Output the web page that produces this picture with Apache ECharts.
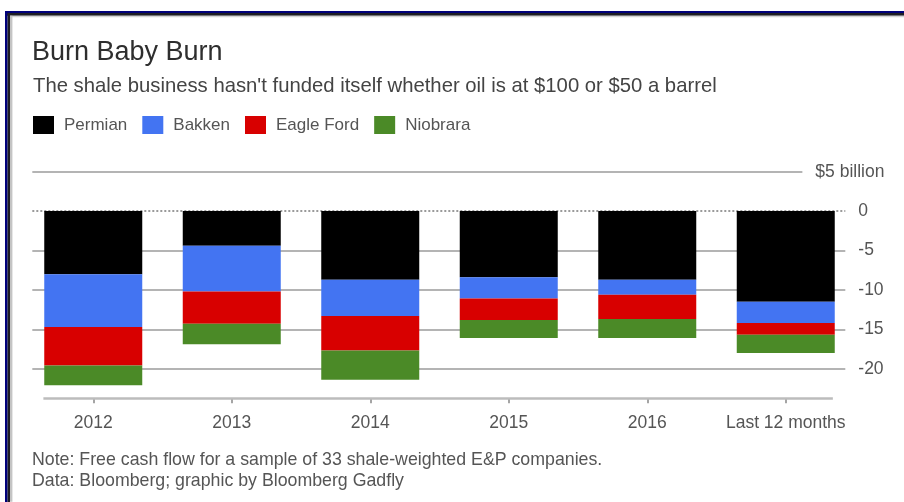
<!DOCTYPE html>
<html>
<head>
<meta charset="utf-8">
<title>Burn Baby Burn</title>
<script src="https://cdn.jsdelivr.net/npm/echarts@6/dist/echarts.min.js"></script>
<style>
  html, body { margin: 0; padding: 0; background: #ffffff; }
  #chart { width: 904px; height: 502px; }
</style>
</head>
<body>
<div id="chart"></div>
<script>
// Free cash flow by basin, $ billions
const categories = ['2012', '2013', '2014', '2015', '2016', 'Last 12 months'];
const permian   = [-8.0, -4.4, -8.7, -8.4, -8.7, -11.5];
const bakken    = [-6.7, -5.8, -4.6, -2.7, -1.9, -2.7];
const eagleFord = [-4.9, -4.1, -4.4, -2.7, -3.1, -1.5];
const niobrara  = [-2.5, -2.6, -3.7, -2.3, -2.4, -2.3];

// Value-axis reference lines and their labels
const yTickValues = [5, 0, -5, -10, -15, -20];
const yTickLabels = ['$5 billion', '0', '-5', '-10', '-15', '-20'];

const FONT = '"Liberation Sans", Arial, Helvetica, sans-serif';
const colors = { permian: '#000000', bakken: '#4374F2', eagleFord: '#D80000', niobrara: '#4B8A27' };

// Horizontal extents, in category units (category i sits at x = i)
const GRID_FROM = -0.44, GRID_TO = 5.43, TOP_LINE_TO = 5.12;
const BASE_FROM = -0.36, BASE_TO = 5.34, BASE_VALUE = -23.75;

const gridLines = yTickValues.map((v, i) => {
  const isZero = v === 0;
  const isTop = i === 0;
  return [
    { coord: [GRID_FROM, v] },
    {
      coord: [isTop ? TOP_LINE_TO : GRID_TO, v],
      lineStyle: {
        color: isZero ? '#9a9a9a' : '#b4b4b4',
        width: 2,
        type: isZero ? [2, 2] : 'solid'
      },
      label: {
        show: true,
        position: 'end',
        distance: 13,
        formatter: () => yTickLabels[i],
        color: '#555',
        fontSize: 17.5,
        fontFamily: FONT
      }
    }
  ];
});

gridLines.push([
  { coord: [BASE_FROM, BASE_VALUE] },
  { coord: [BASE_TO, BASE_VALUE], lineStyle: { color: '#bcbcbc', width: 2.5, type: 'solid' }, label: { show: false } }
]);

function barSeries(name, values, color) {
  return {
    name: name,
    type: 'bar',
    stack: 'total',
    barWidth: 98,
    xAxisIndex: 0,
    yAxisIndex: 0,
    data: values,
    itemStyle: { color: color },
    emphasis: { disabled: true },
    z: 3
  };
}

const chart = echarts.init(document.getElementById('chart'), null, { renderer: 'canvas' });

chart.setOption({
  animation: false,
  backgroundColor: '#ffffff',
  textStyle: { fontFamily: FONT },
  title: [
    {
      text: 'Burn Baby Burn',
      left: 32, top: 38, padding: 0,
      textStyle: { fontSize: 27, fontWeight: 'normal', color: '#2e2e2e', fontFamily: FONT, lineHeight: 30 }
    },
    {
      text: "The shale business hasn't funded itself whether oil is at $100 or $50 a barrel",
      left: 33, top: 75, padding: 0,
      textStyle: { fontSize: 20.3, fontWeight: 'normal', color: '#444', fontFamily: FONT, lineHeight: 22 }
    },
    {
      text: 'Note: Free cash flow for a sample of 33 shale-weighted E&P companies.',
      left: 32, top: 450, padding: 0,
      textStyle: { fontSize: 17.75, fontWeight: 'normal', color: '#555', fontFamily: FONT, lineHeight: 20 }
    },
    {
      text: 'Data: Bloomberg; graphic by Bloomberg Gadfly',
      left: 32, top: 471, padding: 0,
      textStyle: { fontSize: 17.75, fontWeight: 'normal', color: '#555', fontFamily: FONT, lineHeight: 20 }
    }
  ],
  legend: {
    left: 33, top: 116, padding: 0,
    itemWidth: 21, itemHeight: 18, itemGap: 15,
    icon: 'rect',
    selectedMode: false,
    textStyle: { fontSize: 17, color: '#555', fontFamily: FONT, padding: [0, 0, 0, 5] },
    data: ['Permian', 'Bakken', 'Eagle Ford', 'Niobrara']
  },
  grid: { left: 24, right: 49, top: 171.7, bottom: 103.7, containLabel: false },
  xAxis: [
    {
      type: 'category',
      data: categories,
      position: 'bottom',
      axisLine: { show: true, onZero: false, lineStyle: { color: 'rgba(0,0,0,0)', width: 1 } },
      axisTick: { show: true, alignWithLabel: true, interval: 0, length: 5, lineStyle: { color: '#888', width: 1.5 } },
      axisLabel: { color: '#555', fontSize: 17.5, margin: 16, interval: 0, fontFamily: FONT },
      splitLine: { show: false }
    },
    {
      type: 'value',
      min: -0.5, max: 5.5,
      show: false,
      splitLine: { show: false }
    }
  ],
  yAxis: {
    type: 'value',
    min: BASE_VALUE, max: 5,
    axisLabel: { show: false },
    axisLine: { show: false },
    axisTick: { show: false },
    splitLine: { show: false }
  },
  graphic: [
    // page frame
    { type: 'rect', shape: { x: 5, y: 11, width: 899, height: 2.2 }, style: { fill: '#00007a' }, silent: true },
    { type: 'rect', shape: { x: 7, y: 13, width: 897, height: 2.8 }, style: { fill: '#1e1e24' }, silent: true },
    { type: 'rect', shape: { x: 10, y: 15.8, width: 894, height: 1.4 }, style: { fill: '#d4d4d4' }, silent: true },
    { type: 'rect', shape: { x: 5, y: 11, width: 2.6, height: 491 }, style: { fill: '#00007a' }, silent: true },
    { type: 'rect', shape: { x: 7.6, y: 13, width: 2.4, height: 489 }, style: { fill: '#1e1e24' }, silent: true },
    { type: 'rect', shape: { x: 10, y: 15.8, width: 2.4, height: 486 }, style: { fill: '#c4c4c4' }, silent: true }
  ],
  series: [
    {
      name: 'reference lines',
      type: 'line',
      xAxisIndex: 1,
      yAxisIndex: 0,
      data: [],
      silent: true,
      z: 1,
      markLine: {
        silent: true,
        symbol: ['none', 'none'],
        z: 1,
        animation: false,
        emphasis: { disabled: true },
        data: gridLines
      }
    },
    barSeries('Permian', permian, colors.permian),
    barSeries('Bakken', bakken, colors.bakken),
    barSeries('Eagle Ford', eagleFord, colors.eagleFord),
    barSeries('Niobrara', niobrara, colors.niobrara)
  ]
});
</script>
</body>
</html>
